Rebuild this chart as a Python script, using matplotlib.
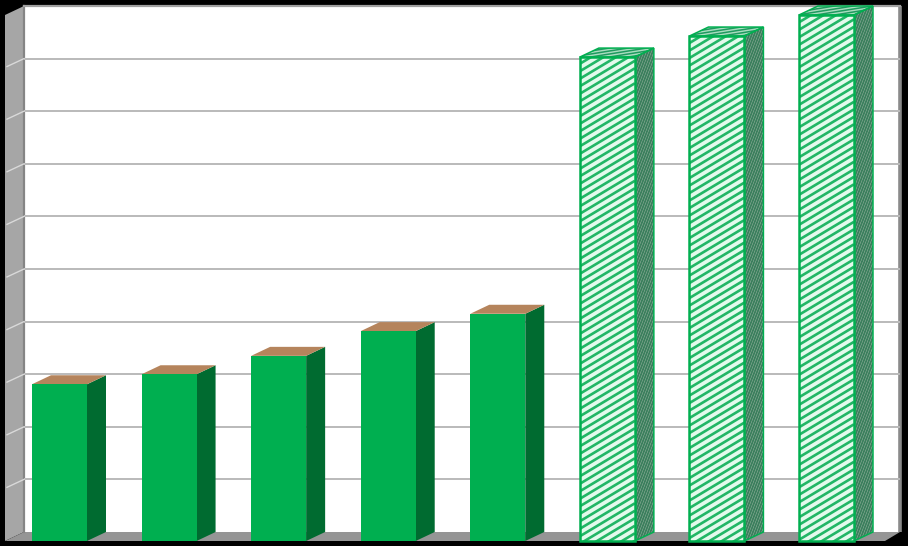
import numpy as np
import matplotlib
matplotlib.use("Agg")
import matplotlib.pyplot as plt
from matplotlib.patches import Polygon
from matplotlib.collections import LineCollection

# Values (one gridline interval = 1 unit)
solid_positions = [0, 1, 2, 3, 4]
solid_values = [2.98, 3.17, 3.52, 3.99, 4.32]
hatched_positions = [5, 6, 7]
hatched_values = [9.20, 9.60, 10.00]
gridline_values = [1, 2, 3, 4, 5, 6, 7, 8, 9]

# Pixel geometry of the plot
W, H = 908, 546
PX_X = 109.57          # pixels per category
PX_Y = 52.6            # pixels per value unit
X0_PX = 59.5           # centre of first bar
Y0_PX = 541            # front floor line
BAR_W = 55 / PX_X
DX = 19 / PX_X         # 3-D depth
DY = 9 / PX_Y


def X(px):
    return (px - X0_PX) / PX_X


def Y(py):
    return (Y0_PX - py) / PX_Y


fig = plt.figure(figsize=(W / 100, H / 100), dpi=100, facecolor="black")
ax = fig.add_axes([0, 0, 1, 1])
ax.set_xlim(X(0), X(W))
ax.set_ylim(Y(H), Y(0))
ax.axis("off")

# Walls
L_FRONT, L_BACK, R_BACK, R_FRONT = X(5), X(24), X(900), X(885)
TOP_BACK = Y(6)
ax.add_patch(Polygon([(L_BACK, 0 + DY), (R_BACK, 0 + DY), (R_BACK, TOP_BACK), (L_BACK, TOP_BACK)],
                     fc="white", ec="none", zorder=1))
ax.add_patch(Polygon([(L_FRONT, 0), (L_BACK, DY), (L_BACK, TOP_BACK), (L_FRONT, TOP_BACK - DY)],
                     fc="#a6a6a6", ec="none", zorder=1))
ax.add_patch(Polygon([(L_FRONT, 0), (R_FRONT, 0), (R_BACK, DY), (L_BACK, DY)],
                     fc="#959595", ec="none", zorder=1))
# Wall edges
ax.plot([L_BACK, L_BACK], [DY, TOP_BACK], color="#858585", lw=1.6, zorder=1.5)
ax.plot([R_BACK, R_BACK], [DY, TOP_BACK], color="#8a8a8a", lw=2.6, zorder=1.5,
        solid_capstyle="butt")
ax.plot([L_BACK, R_BACK], [TOP_BACK, TOP_BACK], color="#a0a0a0", lw=1.6, zorder=1.5)

# Gridlines on back and side wall
for g in gridline_values:
    ax.plot([L_BACK, R_BACK], [g + DY, g + DY], color="#bababa", lw=1.4, zorder=2,
            solid_capstyle="butt")
    ax.plot([L_FRONT + 2 / PX_X, L_BACK], [g + 0.02, g + DY], color="#d9d9d9", lw=1.0, zorder=2)


def stripes(verts, slope, spacing, color, lw, z):
    """Diagonal stripes clipped to a polygon; slope and spacing are in pixels."""
    verts = np.asarray(verts)
    clip = Polygon(verts, fc="none", ec="none", transform=ax.transData)
    ax.add_patch(clip)
    px = (verts[:, 0] * PX_X)
    py = (verts[:, 1] * PX_Y)
    inter = py - slope * px
    segs = []
    start = np.floor(inter.min() / spacing) * spacing
    for c in np.arange(start, inter.max() + spacing, spacing):
        xa, xb = px.min(), px.max()
        segs.append([(xa / PX_X, (slope * xa + c) / PX_Y), (xb / PX_X, (slope * xb + c) / PX_Y)])
    lc = LineCollection(segs, colors=color, linewidths=lw, zorder=z)
    ax.add_collection(lc)
    lc.set_clip_path(clip)


def faces(c, v):
    x0, x1 = c - BAR_W / 2, c + BAR_W / 2
    side = [(x1, 0), (x1 + DX, DY), (x1 + DX, v + DY), (x1, v)]
    top = [(x0, v), (x1, v), (x1 + DX, v + DY), (x0 + DX, v + DY)]
    return x0, x1, side, top


# Solid bars
ax.bar(solid_positions, solid_values, width=BAR_W, color="#00AF50", edgecolor="none", zorder=4)
for c, v in zip(solid_positions, solid_values):
    x0, x1, side, top = faces(c, v)
    ax.add_patch(Polygon(side, fc="#006B30", ec="none", zorder=3))
    ax.add_patch(Polygon(top, fc="#B5845C", ec="none", zorder=3))

# Hatched bars
GREEN = "#00AF50"
ax.bar(hatched_positions, hatched_values, width=BAR_W, color="#E3FAEC", edgecolor="none", zorder=4)
for c, v in zip(hatched_positions, hatched_values):
    x0, x1, side, top = faces(c, v)
    front = [(x0, 0), (x1, 0), (x1, v), (x0, v)]
    stripes(front, 0.6, 7.5, "#22B666", 1.9, 4.5)
    ax.add_patch(Polygon(side, fc="#A8BBAF", ec="none", zorder=3))
    stripes(side, 2.6, 6.5, "#3A7F5C", 1.4, 3.2)
    ax.add_patch(Polygon(top, fc="#A9DDBF", ec="none", zorder=3))
    stripes(top, 0.16, 3.0, "#1F9A5F", 1.1, 3.2)
    ax.add_patch(Polygon(front, fc="none", ec=GREEN, lw=1.8, zorder=5, joinstyle="miter"))
    ax.add_patch(Polygon(side, fc="none", ec=GREEN, lw=1.1, zorder=3.5))
    ax.add_patch(Polygon(top, fc="none", ec=GREEN, lw=1.1, zorder=3.5))

fig.savefig("out.png", dpi=100, facecolor="black")
